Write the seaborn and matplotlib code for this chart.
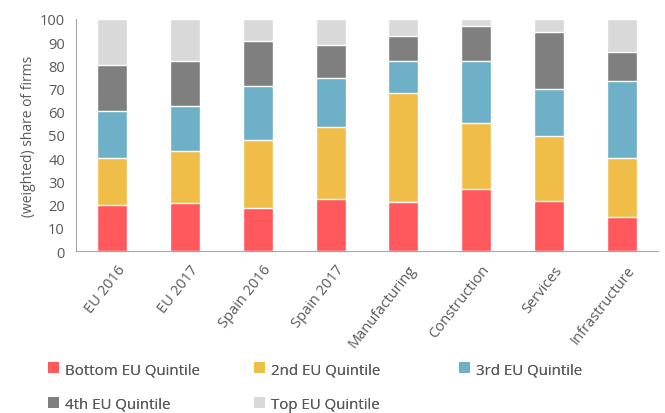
import matplotlib
matplotlib.use("Agg")
import matplotlib.pyplot as plt
import seaborn as sns
import pandas as pd
import numpy as np
from matplotlib.patches import Patch

categories = ["EU 2016", "EU 2017", "Spain 2016", "Spain 2017",
              "Manufacturing", "Construction", "Services", "Infrastructure"]
bottom_q = [20.0, 20.8, 18.4, 22.3, 21.3, 26.7, 21.6, 14.8]
second_q = [20.1, 22.2, 29.4, 31.3, 46.7, 28.3, 28.1, 25.3]
third_q = [20.1, 19.6, 23.3, 21.1, 14.0, 27.0, 20.1, 33.3]
fourth_q = [20.1, 19.4, 19.4, 14.2, 10.8, 15.0, 24.7, 12.2]
top_q = [19.7, 18.0, 9.5, 11.1, 7.2, 3.0, 5.5, 14.4]

series_names = ["Bottom EU Quintile", "2nd EU Quintile", "3rd EU Quintile",
                "4th EU Quintile", "Top EU Quintile"]
colors = ["#FF585D", "#F0BD49", "#6EB0C8", "#7F7F7F", "#D9D9D9"]

df = pd.DataFrame({"category": categories, series_names[0]: bottom_q,
                   series_names[1]: second_q, series_names[2]: third_q,
                   series_names[3]: fourth_q, series_names[4]: top_q})

sns.set_style("white")
plt.rcParams["font.family"] = ["Open Sans", "DejaVu Sans"]
text_color = "#595959"

fig = plt.figure(figsize=(6.65, 4.14), dpi=100)
ax = fig.add_axes([0.1143, 0.3913, 0.8752, 0.5604])

# stacked bars: draw cumulative totals from the top segment down
cum = df[series_names].cumsum(axis=1)
for name, color in reversed(list(zip(series_names, colors))):
    sns.barplot(x=df["category"], y=cum[name], color=color, width=0.41,
                saturation=1, ax=ax)

ax.set_ylim(0, 100)
ax.set_xlim(-0.5, len(categories) - 0.5)
ax.set_yticks(range(0, 101, 10))
ax.set_xticks(np.arange(len(categories)) + 0.06)
ax.set_xticklabels(categories, rotation=52, ha="right", rotation_mode="anchor")
ax.set_xticks(np.arange(len(categories) + 1) - 0.5, minor=True)
ax.tick_params(axis="x", which="major", length=0, pad=8,
               labelsize=10.5, labelcolor=text_color)
ax.tick_params(axis="x", which="minor", length=6, color="#A6A6A6",
               direction="out")
ax.tick_params(axis="y", length=6, color="#A6A6A6", direction="out",
               labelsize=10.5, labelcolor=text_color, pad=2)
ax.set_xlabel("")
ax.set_ylabel("(weighted) share of firms", color=text_color, fontsize=10,
              labelpad=3)
sns.despine(ax=ax)
for side in ["left", "bottom"]:
    ax.spines[side].set_color("#A6A6A6")

# legend laid out in three equal-width columns, filled row by row
columns = [[0, 3], [1, 4], [2]]
col_x = [45 / 665, 251 / 665, 456 / 665]
for idx, x0 in zip(columns, col_x):
    handles = [Patch(facecolor=colors[i], edgecolor="none") for i in idx]
    labels = [series_names[i] for i in idx]
    leg = fig.legend(handles, labels, loc="upper left",
                     bbox_to_anchor=(x0, 0.13), frameon=False,
                     fontsize=10.8, labelcolor=text_color,
                     handlelength=0.75, handleheight=0.75, handletextpad=0.4,
                     labelspacing=1.3, borderaxespad=0.0, borderpad=0.2)
    fig.add_artist(leg)

fig.savefig("out.png", dpi=100)
